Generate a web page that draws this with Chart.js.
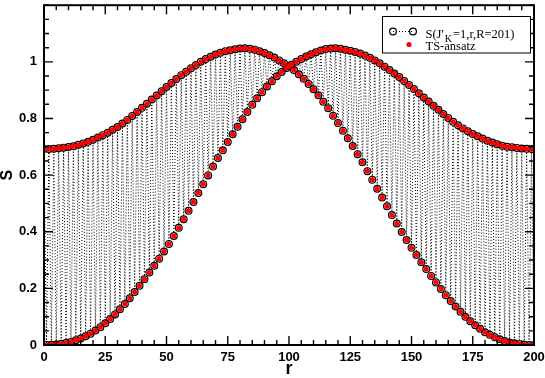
<!DOCTYPE html>
<html>
<head>
<meta charset="utf-8">
<script src="https://cdn.jsdelivr.net/npm/chart.js@4.4.0/dist/chart.umd.min.js"></script>
<style>
  html, body { margin: 0; padding: 0; background: #fff; }
</style>
</head>
<body>
<canvas id="chart" width="545" height="378"></canvas>
<script>
// S(r): even r (0,2,...,200) and odd r (1,3,...,199)
const sEven = [
  0.692, 0.692, 0.693, 0.695, 0.697, 0.699, 0.702, 0.707, 0.712, 0.718,
  0.725, 0.733, 0.741, 0.750, 0.760, 0.770, 0.782, 0.795, 0.809, 0.823,
  0.838, 0.852, 0.867, 0.881, 0.896, 0.911, 0.925, 0.939, 0.953, 0.965,
  0.977, 0.989, 1.000, 1.010, 1.018, 1.026, 1.032, 1.037, 1.041, 1.044,
  1.047, 1.048, 1.046, 1.043, 1.037, 1.031, 1.023, 1.015, 1.005, 0.995,
  0.985,
  0.971, 0.956, 0.940, 0.922, 0.903, 0.882, 0.859, 0.836, 0.810, 0.784,
  0.757, 0.730, 0.703, 0.674, 0.645, 0.614, 0.584, 0.552, 0.521, 0.490,
  0.459, 0.429, 0.399, 0.371, 0.343, 0.318, 0.292, 0.268, 0.244, 0.221,
  0.198, 0.176, 0.155, 0.136, 0.117, 0.100, 0.084, 0.070, 0.057, 0.045,
  0.036, 0.027, 0.020, 0.014, 0.009, 0.006, 0.003, 0.001, 0.000, 0.000
];
const sOdd = [
  0.000, 0.001, 0.002, 0.004, 0.007, 0.011, 0.017, 0.023, 0.031, 0.040,
  0.051, 0.063, 0.077, 0.092, 0.108, 0.126, 0.145, 0.165, 0.187, 0.209,
  0.232, 0.256, 0.280, 0.305, 0.330, 0.357, 0.385, 0.414, 0.444, 0.474,
  0.505, 0.537, 0.568, 0.599, 0.630, 0.660, 0.688, 0.717, 0.744, 0.771,
  0.797, 0.823, 0.848, 0.871, 0.893, 0.913, 0.931, 0.949, 0.964, 0.978,
  0.990, 1.000, 1.010, 1.019, 1.027, 1.034, 1.040, 1.045, 1.047, 1.048,
  1.046, 1.043, 1.039, 1.035, 1.029, 1.022, 1.014, 1.005, 0.995, 0.983,
  0.971, 0.959, 0.946, 0.932, 0.918, 0.904, 0.889, 0.874, 0.860, 0.845,
  0.831, 0.816, 0.802, 0.788, 0.776, 0.765, 0.755, 0.745, 0.737, 0.729,
  0.721, 0.715, 0.709, 0.704, 0.700, 0.698, 0.696, 0.694, 0.693, 0.692
];

const xTickValues = [0, 25, 50, 75, 100, 125, 150, 175, 200];
const xTickLabels = ['0', '25', '50', '75', '100', '125', '150', '175', '200'];
const yTickValues = [0, 0.2, 0.4, 0.6, 0.8, 1];
const yTickLabels = ['0', '0.2', '0.4', '0.6', '0.8', '1'];
const xMinorStep = 5;
const yMinorStep = 0.05;

// one point per site r, alternating between the two branches
const points = [];
for (let r = 0; r <= 200; r++) {
  points.push({ x: r, y: r % 2 === 0 ? sEven[r / 2] : sOdd[(r - 1) / 2] });
}

const tickFont = { family: '"Liberation Sans", Arial, sans-serif', size: 13, weight: 'bold' };

// xmgrace style frame with inward ticks on all four sides
const frameTicks = {
  id: 'frameTicks',
  afterDatasetsDraw(chart) {
    const { ctx, chartArea: a, scales: { x, y } } = chart;
    ctx.save();
    ctx.strokeStyle = '#000';
    ctx.lineWidth = 1.4;
    ctx.beginPath();
    for (let v = x.min; v <= x.max + 1e-9; v += xMinorStep) {
      const px = x.getPixelForValue(v);
      const len = xTickValues.includes(Math.round(v)) ? 9 : 5;
      ctx.moveTo(px, a.bottom); ctx.lineTo(px, a.bottom - len);
      ctx.moveTo(px, a.top); ctx.lineTo(px, a.top + len);
    }
    for (let k = 0; k * yMinorStep <= y.max + 1e-9; k++) {
      const v = k * yMinorStep;
      const py = y.getPixelForValue(v);
      const len = yTickValues.some(t => Math.abs(t - v) < 1e-6) ? 9 : 5;
      ctx.moveTo(a.left, py); ctx.lineTo(a.left + len, py);
      ctx.moveTo(a.right, py); ctx.lineTo(a.right - len, py);
    }
    ctx.stroke();
    ctx.lineWidth = 2;
    ctx.strokeRect(a.left, a.top, a.right - a.left, a.bottom - a.top);
    ctx.restore();
  },
  afterDraw(chart) {
    const ctx = chart.ctx;
    ctx.save();
    // legend box
    ctx.fillStyle = '#fff';
    ctx.fillRect(382, 16.5, 148, 36.5);
    ctx.strokeStyle = '#000';
    ctx.lineWidth = 1;
    ctx.strokeRect(382.5, 16.5, 148, 36.5);
    // row 1 symbol: open circle - dotted - open circle
    ctx.setLineDash([1, 2]);
    ctx.beginPath();
    ctx.moveTo(393, 31.5); ctx.lineTo(413, 31.5);
    ctx.stroke();
    ctx.setLineDash([]);
    ctx.lineWidth = 1.2;
    [393, 413].forEach(cx => {
      ctx.beginPath();
      ctx.arc(cx, 31.5, 3.4, 0, Math.PI * 2);
      ctx.stroke();
    });
    // row 2 symbol: red dot
    ctx.fillStyle = '#ff0000';
    ctx.beginPath();
    ctx.arc(409, 44.5, 2.6, 0, Math.PI * 2);
    ctx.fill();
    // texts
    ctx.fillStyle = '#000';
    ctx.textBaseline = 'alphabetic';
    ctx.textAlign = 'left';
    ctx.font = '12.5px "Liberation Serif", "Times New Roman", serif';
    let tx = 425.5;
    ctx.fillText("S(J'", tx, 37.5);
    tx += ctx.measureText("S(J'").width;
    ctx.font = '10px "Liberation Serif", "Times New Roman", serif';
    ctx.fillText('K', tx + 1, 42);
    tx += ctx.measureText('K').width + 2;
    ctx.font = '12.5px "Liberation Serif", "Times New Roman", serif';
    ctx.fillText('=1,r,R=201)', tx, 37.5);
    ctx.fillText('TS-ansatz', 425.5, 49.5);
    ctx.restore();
  }
};

new Chart(document.getElementById('chart'), {
  type: 'line',
  data: {
    datasets: [
      {
        label: 'TS-ansatz',
        data: points,
        showLine: false,
        pointRadius: 2.6,
        pointBorderWidth: 0,
        pointBackgroundColor: '#ff0000',
        pointBorderColor: '#ff0000'
      },
      {
        label: 'S',
        data: points,
        borderColor: '#000',
        borderWidth: 1,
        borderDash: [1, 2],
        tension: 0,
        pointRadius: 3.4,
        pointBorderWidth: 1.2,
        pointBorderColor: '#000',
        pointBackgroundColor: 'rgba(0,0,0,0)'
      }
    ]
  },
  options: {
    responsive: false,
    animation: false,
    devicePixelRatio: 1,
    layout: { padding: { top: 3, right: 11, left: 0, bottom: 0 } },
    plugins: { legend: { display: false }, tooltip: { enabled: false } },
    scales: {
      x: {
        type: 'linear',
        min: 0,
        max: 200,
        afterBuildTicks: s => { s.ticks = xTickValues.map(v => ({ value: v })); },
        afterFit: s => { s.height = 33; s.paddingLeft = 0; s.paddingRight = 0; },
        grid: { display: false, drawTicks: false },
        border: { display: false },
        ticks: {
          font: tickFont, color: '#000', padding: 5, maxRotation: 0,
          callback: (v, i) => xTickLabels[i]
        },
        title: {
          display: true, text: 'r', color: '#000',
          font: { family: '"Liberation Sans", Arial, sans-serif', size: 18, weight: 'bold', lineHeight: 0.95 },
          padding: { top: 0, bottom: 0 }
        }
      },
      y: {
        type: 'linear',
        min: 0,
        max: 1.2,
        afterBuildTicks: s => { s.ticks = yTickValues.map(v => ({ value: v })); },
        afterFit: s => { s.width = 44; s.paddingTop = 0; s.paddingBottom = 0; },
        grid: { display: false, drawTicks: false },
        border: { display: false },
        ticks: {
          font: tickFont, color: '#000', padding: 7,
          callback: (v, i) => yTickLabels[i]
        },
        title: {
          display: true, text: 'S', color: '#000',
          font: { family: '"Liberation Sans", Arial, sans-serif', size: 16, weight: 'bold', lineHeight: 0.9 },
          padding: { top: 0, bottom: 0 }
        }
      }
    }
  },
  plugins: [frameTicks]
});
</script>
</body>
</html>
